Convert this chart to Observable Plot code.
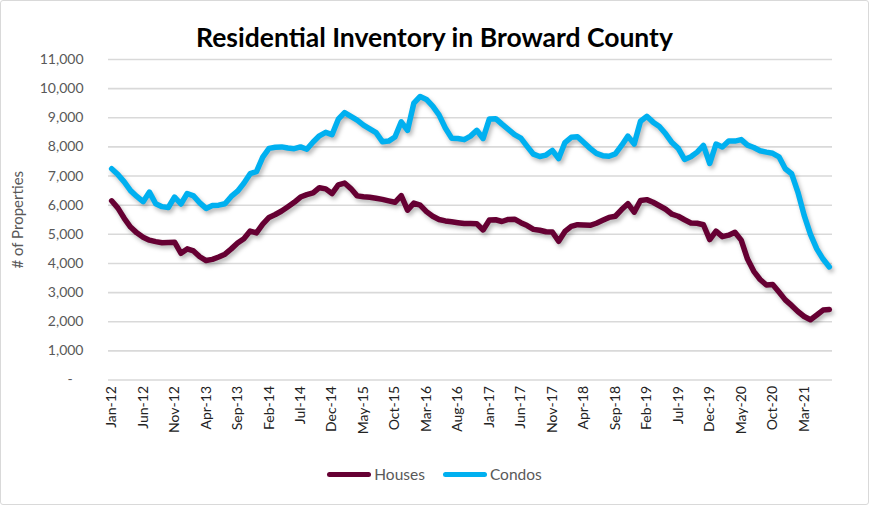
<!DOCTYPE html>
<html><head><meta charset="utf-8">
<script src="https://cdn.jsdelivr.net/npm/d3@7"></script>
<script src="https://cdn.jsdelivr.net/npm/@observablehq/plot@0.6"></script>
<style>
body{margin:0;background:#fff;}
#wrap{position:relative;width:869px;height:505px;font-family:Lato,"Open Sans",sans-serif;overflow:hidden}
#frame{position:absolute;left:0;top:0;width:867px;height:503px;border:1px solid #d9d9d9;border-radius:3px;pointer-events:none}
#title{position:absolute;top:21px;left:0;width:869px;text-align:center;font-weight:bold;font-size:26.5px;color:#000;line-height:32px}
#legend{position:absolute;top:463px;left:0;width:869px;display:flex;justify-content:center;align-items:center;font-size:15.5px;color:#595959;line-height:22px}
.sw{display:inline-block;width:44px;height:5px;border-radius:3px;margin-right:3px}
#chart{position:absolute;left:0;top:0}
</style>
</head><body>
<div id="wrap">
<div id="chart"></div>
<div id="title">Residential Inventory in Broward County</div>
<div id="legend"><span class="sw" style="background:#660033"></span><span style="margin-right:18px">Houses</span><span class="sw" style="background:#00B0F0"></span><span>Condos</span></div>
<div id="frame"></div>
</div>
<script>
const seriesNames = ["Houses", "Condos"];
const seriesColors = ["#660033", "#00B0F0"];
const startMonth = "2012-01";
const tickLabels = ["Jan-12","Jun-12","Nov-12","Apr-13","Sep-13","Feb-14","Jul-14","Dec-14","May-15","Oct-15","Mar-16","Aug-16","Jan-17","Jun-17","Nov-17","Apr-18","Sep-18","Feb-19","Jul-19","Dec-19","May-20","Oct-20","Mar-21"];
const yTicks = [0,1000,2000,3000,4000,5000,6000,7000,8000,9000,10000,11000];

const houses = [6150,5900,5550,5250,5050,4900,4800,4750,4710,4720,
4730,4350,4500,4430,4230,4100,4140,4220,4320,4500,
4700,4850,5110,5050,5350,5580,5680,5800,5950,6100,
6280,6360,6420,6600,6560,6400,6700,6760,6570,6320,
6290,6270,6240,6200,6150,6100,6330,5830,6070,6000,
5780,5620,5510,5460,5430,5400,5370,5370,5360,5150,
5490,5500,5440,5510,5520,5400,5300,5170,5140,5090,
5080,4760,5100,5270,5330,5320,5310,5380,5480,5580,
5620,5850,6050,5760,6160,6190,6100,5980,5860,5690,
5620,5500,5390,5380,5330,4820,5110,4920,4970,5070,
4800,4150,3730,3450,3260,3280,3020,2750,2560,2350,
2180,2070,2230,2400,2420];

const condos = [7250,7050,6800,6500,6300,6120,6450,6050,5950,5920,
6280,6040,6400,6320,6080,5890,5990,6000,6050,6300,
6480,6750,7080,7150,7650,7950,7990,8000,7960,7940,
8000,7920,8170,8380,8500,8420,8950,9180,9050,8920,
8750,8620,8490,8180,8200,8340,8860,8570,9500,9730,
9630,9400,9100,8650,8300,8290,8250,8370,8570,8290,
8960,8970,8780,8600,8420,8300,8020,7750,7670,7720,
7880,7600,8150,8330,8350,8150,7950,7780,7700,7680,
7760,8050,8370,8100,8880,9050,8850,8700,8450,8150,
7950,7570,7660,7820,8050,7430,8100,8000,8200,8200,
8250,8060,7980,7870,7820,7780,7660,7250,7080,6450,
5650,5000,4500,4150,3880];

const n = houses.length;
const rows = [];
[houses, condos].forEach((arr, s) => arr.forEach((v, i) => rows.push({i, v, s: seriesNames[s]})));
const tickIdx = tickLabels.map((_, k) => k * 5);

const chart = Plot.plot({
  width: 869,
  height: 505,
  marginLeft: 108,
  marginRight: 37,
  marginTop: 59,
  marginBottom: 125.5,
  style: {fontFamily: "Lato, 'Open Sans', sans-serif", background: "transparent"},
  x: {type: "linear", domain: [-0.5, n - 0.5], axis: null},
  y: {domain: [0, 11000], axis: null},
  color: {domain: seriesNames, range: seriesColors},
  marks: [
    Plot.gridY(yTicks, {stroke: "#d9d9d9", strokeOpacity: 1, strokeWidth: 1.6}),
    Plot.axisY(yTicks, {tickSize: 0, tickPadding: 25, fontSize: 14, fill: "#595959", label: null,
      tickFormat: d => d === 0 ? "-\u00a0\u00a0\u00a0" : d3.format(",")(d)}),
    Plot.axisX(tickIdx, {tickSize: 0, tickPadding: 6, tickRotate: -90, fontSize: 14, fill: "#222", label: null,
      tickFormat: (d) => tickLabels[d / 5]}),
    Plot.line(rows, {x: "i", y: "v", z: "s", stroke: "s", strokeWidth: 5.5, strokeLinejoin: "round", strokeLinecap: "round", className: "series"}),
    Plot.text(["# of Properties"], {frameAnchor: "left", dx: -90, rotate: -90, textAnchor: "middle", fontSize: 15, fill: "#595959"})
  ]
});
chart.querySelectorAll("g[aria-label='line'] path, .series path").forEach(p => p.style.filter = "drop-shadow(2px 3px 2px rgba(0,0,0,0.28))");
document.getElementById("chart").appendChild(chart);
</script>
</body></html>
